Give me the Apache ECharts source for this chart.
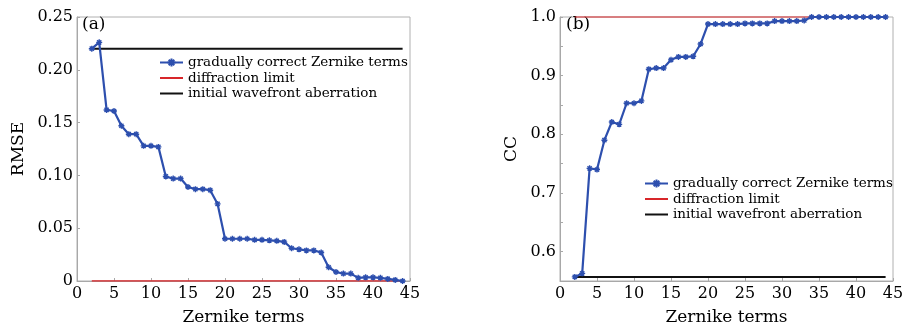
<!DOCTYPE html>
<html>
<head>
<meta charset="utf-8">
<script src="https://cdn.jsdelivr.net/npm/echarts@6/dist/echarts.min.js"></script>
<style>
  html, body { margin: 0; padding: 0; background: #fff; }
  #chart { width: 907px; height: 324px; }
</style>
</head>
<body>
<div id="chart"></div>
<script>
// Zernike terms corrected (x axis)
var terms = [2, 3, 4, 5, 6, 7, 8, 9, 10, 11, 12, 13, 14, 15, 16, 17, 18, 19, 20, 21, 22,
  23, 24, 25, 26, 27, 28, 29, 30, 31, 32, 33, 34, 35, 36, 37, 38, 39, 40, 41, 42, 43, 44];
// (a) RMSE while gradually correcting
var rmse = [0.220, 0.226, 0.162, 0.161, 0.147, 0.139, 0.139, 0.128, 0.128, 0.127, 0.099,
  0.097, 0.097, 0.089, 0.087, 0.087, 0.086, 0.073, 0.040, 0.040, 0.040, 0.040, 0.039,
  0.039, 0.0385, 0.038, 0.037, 0.031, 0.030, 0.029, 0.029, 0.027, 0.013, 0.0085, 0.007,
  0.007, 0.003, 0.0035, 0.0035, 0.003, 0.002, 0.001, 0.000];
// (b) CC while gradually correcting
var cc = [0.557, 0.563, 0.742, 0.740, 0.790, 0.821, 0.817, 0.853, 0.853, 0.857, 0.911,
  0.913, 0.913, 0.927, 0.932, 0.932, 0.933, 0.954, 0.988, 0.988, 0.988, 0.988, 0.988,
  0.989, 0.989, 0.989, 0.989, 0.993, 0.993, 0.993, 0.993, 0.994, 1.000, 1.000, 1.000,
  1.000, 1.000, 1.000, 1.000, 1.000, 1.000, 1.000, 1.000];
// horizontal reference levels
var rmseLimit = 0, rmseInitial = 0.220;
var ccLimit = 1.0, ccInitial = 0.557;
var xTicks = [0, 5, 10, 15, 20, 25, 30, 35, 40, 45];
var ccTicks = [0.6, 0.7, 0.8, 0.9, 1.0];
var ccMinorTicks = [0.6, 0.65, 0.7, 0.75, 0.8, 0.85, 0.9, 0.95, 1.0];

var names = ['gradually correct Zernike terms', 'diffraction limit', 'initial wavefront aberration'];
var BLUE = '#2d4fae', RED = '#d8262a', BLACK = '#111';
var FONT = 'DejaVu Serif';
var star = 'path://M0,-1L0,1M-1,0L1,0M-0.7,-0.7L0.7,0.7M-0.7,0.7L0.7,-0.7';

function pairs(ys) {
  return terms.map(function (t, i) { return [t, ys[i]]; });
}
function flat(v) {
  return [[terms[0], v], [terms[terms.length - 1], v]];
}

function xAxis(idx) {
  return {
    type: 'value', gridIndex: idx, min: 0, max: 45, interval: 5,
    name: 'Zernike terms', nameLocation: 'middle', nameGap: 28,
    nameTextStyle: { fontFamily: FONT, fontSize: 17, color: '#000' },
    axisLine: { lineStyle: { color: '#a8a8a8' } },
    axisTick: { inside: true, length: 3, lineStyle: { color: '#a8a8a8' } },
    axisLabel: { fontFamily: FONT, fontSize: 16, color: '#000', margin: 5,
      customValues: xTicks },
    splitLine: { show: false }
  };
}

// legend rows; the reference lines show no marker in their legend key
var legendData = [
  { name: names[0] },
  { name: names[1], itemStyle: { opacity: 0 } },
  { name: names[2], itemStyle: { opacity: 0 } }
];
function legend(left, top) {
  return {
    data: legendData, orient: 'vertical', left: left, top: top, padding: 0,
    itemWidth: 23, itemHeight: 10, itemGap: 0.5, selectedMode: false,
    textStyle: { fontFamily: FONT, fontSize: 13.5, color: '#000', lineHeight: 15 }
  };
}

var chart = echarts.init(document.getElementById('chart'));
chart.setOption({
  animation: false,
  backgroundColor: '#fff',
  grid: [
    { left: 77, right: 497, top: 17, bottom: 43, outerBoundsMode: 'none',
      show: true, borderColor: '#b0b0b0', borderWidth: 1 },
    { left: 560, right: 14, top: 17, bottom: 43, outerBoundsMode: 'none',
      show: true, borderColor: '#b0b0b0', borderWidth: 1 }
  ],
  xAxis: [xAxis(0), xAxis(1)],
  yAxis: [
    {
      type: 'value', gridIndex: 0, min: 0, max: 0.25, interval: 0.05,
      name: 'RMSE', nameLocation: 'middle', nameRotate: 90, nameGap: 50,
      nameTextStyle: { fontFamily: FONT, fontSize: 17, color: '#000' },
      axisLine: { show: true, lineStyle: { color: '#a8a8a8' } },
      axisTick: { show: true, inside: true, length: 3, lineStyle: { color: '#a8a8a8' } },
      axisLabel: { fontFamily: FONT, fontSize: 16, color: '#000', margin: 4,
        formatter: function (v) { return v === 0 ? '0' : v.toFixed(2); } },
      splitLine: { show: false }
    },
    {
      type: 'value', gridIndex: 1, min: 0.55, max: 1.0,
      name: 'CC', nameLocation: 'middle', nameRotate: 90, nameGap: 40,
      nameTextStyle: { fontFamily: FONT, fontSize: 17, color: '#000' },
      axisLine: { show: true, lineStyle: { color: '#a8a8a8' } },
      axisTick: { show: true, inside: true, length: 3, customValues: ccMinorTicks,
        lineStyle: { color: '#a8a8a8' } },
      axisLabel: { fontFamily: FONT, fontSize: 16, color: '#000', margin: 4,
        customValues: ccTicks, formatter: function (v) { return v.toFixed(1); } },
      splitLine: { show: false }
    }
  ],
  legend: [legend(159, 55), legend(644, 176)],
  graphic: [
    { type: 'text', left: 82, top: 16, style: { text: '(a)', font: '17px "DejaVu Serif"', fill: '#000' } },
    { type: 'text', left: 566, top: 16, style: { text: '(b)', font: '17px "DejaVu Serif"', fill: '#000' } }
  ],
  series: [
    { name: names[2], type: 'line', xAxisIndex: 0, yAxisIndex: 0, data: flat(rmseInitial),
      symbol: 'none', lineStyle: { color: BLACK, width: 2 }, itemStyle: { color: BLACK } },
    { name: names[1], type: 'line', xAxisIndex: 0, yAxisIndex: 0, data: flat(rmseLimit),
      symbol: 'none', lineStyle: { color: RED, width: 1.5 }, itemStyle: { color: RED } },
    { name: names[0], type: 'line', xAxisIndex: 0, yAxisIndex: 0, data: pairs(rmse),
      symbol: star, symbolSize: 6, lineStyle: { color: BLUE, width: 2.2 },
      itemStyle: { color: BLUE, borderColor: BLUE, borderWidth: 1.4 } },

    { name: names[2], type: 'line', xAxisIndex: 1, yAxisIndex: 1, data: flat(ccInitial),
      symbol: 'none', lineStyle: { color: BLACK, width: 2 }, itemStyle: { color: BLACK } },
    { name: names[1], type: 'line', xAxisIndex: 1, yAxisIndex: 1, data: flat(ccLimit),
      symbol: 'none', clip: false, lineStyle: { color: RED, width: 1.2 }, itemStyle: { color: RED } },
    { name: names[0], type: 'line', xAxisIndex: 1, yAxisIndex: 1, data: pairs(cc),
      symbol: star, symbolSize: 6, clip: false, lineStyle: { color: BLUE, width: 2.2 },
      itemStyle: { color: BLUE, borderColor: BLUE, borderWidth: 1.4 } }
  ]
});
</script>
</body>
</html>
